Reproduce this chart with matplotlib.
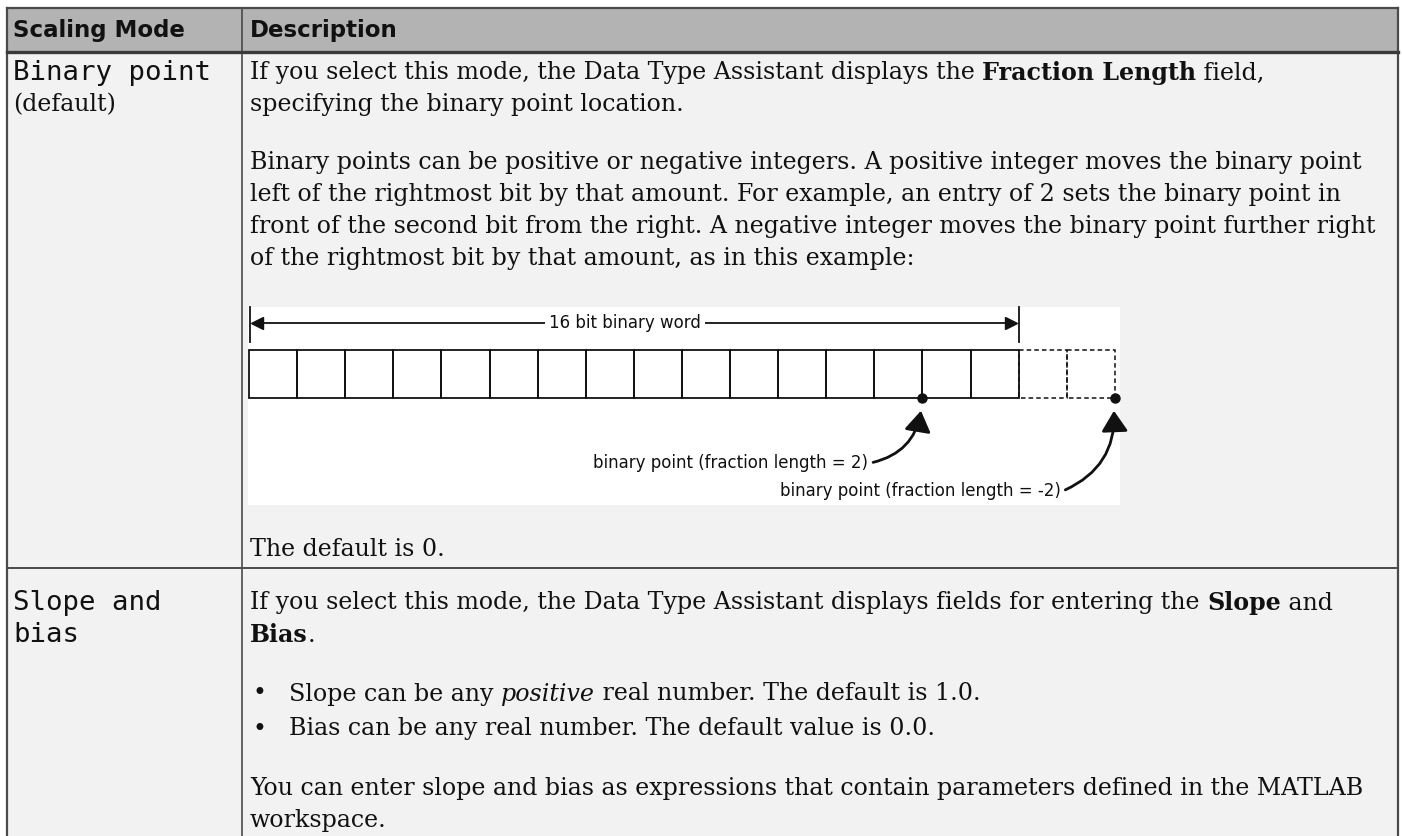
# -*- coding:utf-8 -*-

import matplotlib
matplotlib.use('Agg')
from matplotlib import pyplot as plt
from matplotlib.patches import Rectangle, FancyArrowPatch

W, H = 1402, 836

# 表格内容
headers = ['Scaling Mode', 'Description']
mode_names = [['Binary point', '(default)'], ['Slope and', 'bias']]

# 每一行是若干 (文字, 样式) 片段, 样式 n=普通 b=粗体 i=斜体
row1_lines = [
    [('If you select this mode, the Data Type Assistant displays the ', 'n'), ('Fraction Length', 'b'), (' field,', 'n')],
    [('specifying the binary point location.', 'n')],
    [('Binary points can be positive or negative integers. A positive integer moves the binary point', 'n')],
    [('left of the rightmost bit by that amount. For example, an entry of 2 sets the binary point in', 'n')],
    [('front of the second bit from the right. A negative integer moves the binary point further right', 'n')],
    [('of the rightmost bit by that amount, as in this example:', 'n')],
]
row1_tail = 'The default is 0.'
row2_lines = [
    [('If you select this mode, the Data Type Assistant displays fields for entering the ', 'n'), ('Slope', 'b'), (' and', 'n')],
    [('Bias', 'b'), ('.', 'n')],
]
row2_bullets = [
    [('Slope can be any ', 'n'), ('positive', 'i'), (' real number. The default is 1.0.', 'n')],
    [('Bias can be any real number. The default value is 0.0.', 'n')],
]
row2_tail = ['You can enter slope and bias as expressions that contain parameters defined in the MATLAB',
             'workspace.']

# 示意图
n_bits = 16
n_ext = 2
word_label = '16 bit binary word'
frac_lengths = [2, -2]
frac_labels = ['binary point (fraction length = 2)', 'binary point (fraction length = -2)']

fig = plt.figure(figsize=(W / 100, H / 100), dpi=100)
fig.patch.set_facecolor('white')
ax = fig.add_axes([0, 0, 1, 1])
ax.set_xlim(0, W)
ax.set_ylim(H, 0)
ax.axis('off')
renderer = fig.canvas.get_renderer()

txt_col = '#111111'
border = '#4a4a4a'

# 表格几何
L, R, T = 7, 1398, 8
col_x = 242
head_b = 52
row_sep = 568
tx = 250


def run_width(runs, size):
    w = 0
    for txt, st in runs:
        t = ax.text(0, 0, txt, fontsize=size, family='DejaVu Serif',
                    fontweight='bold' if st == 'b' else 'normal',
                    fontstyle='italic' if st == 'i' else 'normal')
        w += t.get_window_extent(renderer).width
        t.remove()
    return w


# 字号按原图的换行位置来定: 每行能放下, 加上下一个词就放不下
avail = R - 8 - tx
wrapped = [(row1_lines[0], [(' specifying', 'n')]),
           (row1_lines[2], [(' left', 'n')]),
           (row1_lines[3], [(' front', 'n')]),
           (row1_lines[4], [(' of', 'n')]),
           (row2_lines[0], [(' Bias', 'b'), ('.', 'n')]),
           ([(row2_tail[0], 'n')], [(' workspace.', 'n')])]
hi = min(avail / run_width(a, 10) * 10 for a, b in wrapped)
lo = max(avail / run_width(a + b, 10) * 10 for a, b in wrapped)
body_size = (hi + lo) / 2 if lo < hi else hi * 0.99

ax.add_patch(Rectangle((L, T), R - L, H - T, facecolor='#f2f2f2', edgecolor='none'))
ax.add_patch(Rectangle((L, T), R - L, head_b - T, facecolor='#b3b3b3', edgecolor='none'))
ax.plot([L, R], [T, T], color=border, lw=1.6)
ax.plot([L, L], [T, H], color=border, lw=1.6)
ax.plot([R, R], [T, H], color=border, lw=1.6)
ax.plot([col_x, col_x], [T, H], color=border, lw=1.2)
ax.plot([L, R], [head_b, head_b], color='#3a3a3a', lw=2.4)
ax.plot([L, R], [row_sep, row_sep], color=border, lw=1.4)


def draw_runs(x, y, runs, size=None):
    size = size or body_size
    for txt, st in runs:
        t = ax.text(x, y, txt, fontsize=size, color=txt_col, va='center', ha='left',
                    family='DejaVu Serif',
                    fontweight='bold' if st == 'b' else 'normal',
                    fontstyle='italic' if st == 'i' else 'normal')
        x += t.get_window_extent(renderer).width


# 表头
for x, h in zip([13, tx], headers):
    ax.text(x, 30, h, fontsize=16.5, fontweight='bold', color=txt_col,
            va='center', ha='left', family='DejaVu Sans')

# 左列
mono = dict(fontsize=19.7, family='DejaVu Sans Mono', color=txt_col, va='center')
ax.text(13, 73, mode_names[0][0], **mono)
draw_runs(13, 105, [(mode_names[0][1], 'n')])
ax.text(13, 603, mode_names[1][0], **mono)
ax.text(13, 635, mode_names[1][1], **mono)

# 第一行说明
for y, runs in zip([73, 105, 163, 195, 227, 259], row1_lines):
    draw_runs(tx, y, runs)
draw_runs(tx, 550, [(row1_tail, 'n')])

# 示意图
dx0, dy0, dx1, dy1 = 248, 307, 1120, 505
ax.add_patch(Rectangle((dx0, dy0), dx1 - dx0, dy1 - dy0, facecolor='white', edgecolor='none'))
cw = 48.1
bx0 = 249
by0, by1 = 350, 398
fig_col = '#111111'
for i in range(n_bits):
    ax.add_patch(Rectangle((bx0 + i * cw, by0), cw, by1 - by0, facecolor='none',
                           edgecolor=fig_col, lw=1.3))
for i in range(n_ext):
    ax.add_patch(Rectangle((bx0 + (n_bits + i) * cw, by0), cw, by1 - by0, facecolor='none',
                           edgecolor=fig_col, lw=1.1, ls=(0, (3, 2))))
xe = bx0 + n_bits * cw
# 16 位箭头
ay = 323
ax.plot([bx0 + 1, bx0 + 1], [307, 342], color=fig_col, lw=1.3)
ax.plot([xe, xe], [307, 342], color=fig_col, lw=1.3)
ax.plot([bx0 + 6, xe - 6], [ay, ay], color=fig_col, lw=1.3)
ax.plot([bx0 + 8], [ay], marker='<', ms=8, color=fig_col)
ax.plot([xe - 8], [ay], marker='>', ms=8, color=fig_col)
ax.text(625, ay, word_label, fontsize=12, color=fig_col, ha='center', va='center',
        family='DejaVu Sans', bbox=dict(facecolor='white', edgecolor='none', pad=3))

# 小数点位置
label_y = [463, 491]
for f, lab, ly in zip(frac_lengths, frac_labels, label_y):
    px = bx0 + (n_bits - f) * cw
    ax.plot([px], [by1], marker='o', ms=6.5, color=fig_col)
    ax.text(px - 54, ly, lab, fontsize=12, color=fig_col, ha='right', va='center',
            family='DejaVu Sans')
    arr = FancyArrowPatch((px - 52, ly), (px - 1, by1 + 10), connectionstyle='arc3,rad=0.35',
                          arrowstyle='-|>,head_length=0.7,head_width=0.45', mutation_scale=18,
                          color=fig_col, lw=2.0)
    ax.add_patch(arr)

# 第二行说明
for y, runs in zip([603, 635], row2_lines):
    draw_runs(tx, y, runs)
for y, runs in zip([694, 729], row2_bullets):
    draw_runs(252, y, [('•', 'n')])
    draw_runs(289, y, runs)
for y, line in zip([788, 820], row2_tail):
    draw_runs(tx, y, [(line, 'n')])

fig.savefig('out.png', dpi=100, facecolor='white')
